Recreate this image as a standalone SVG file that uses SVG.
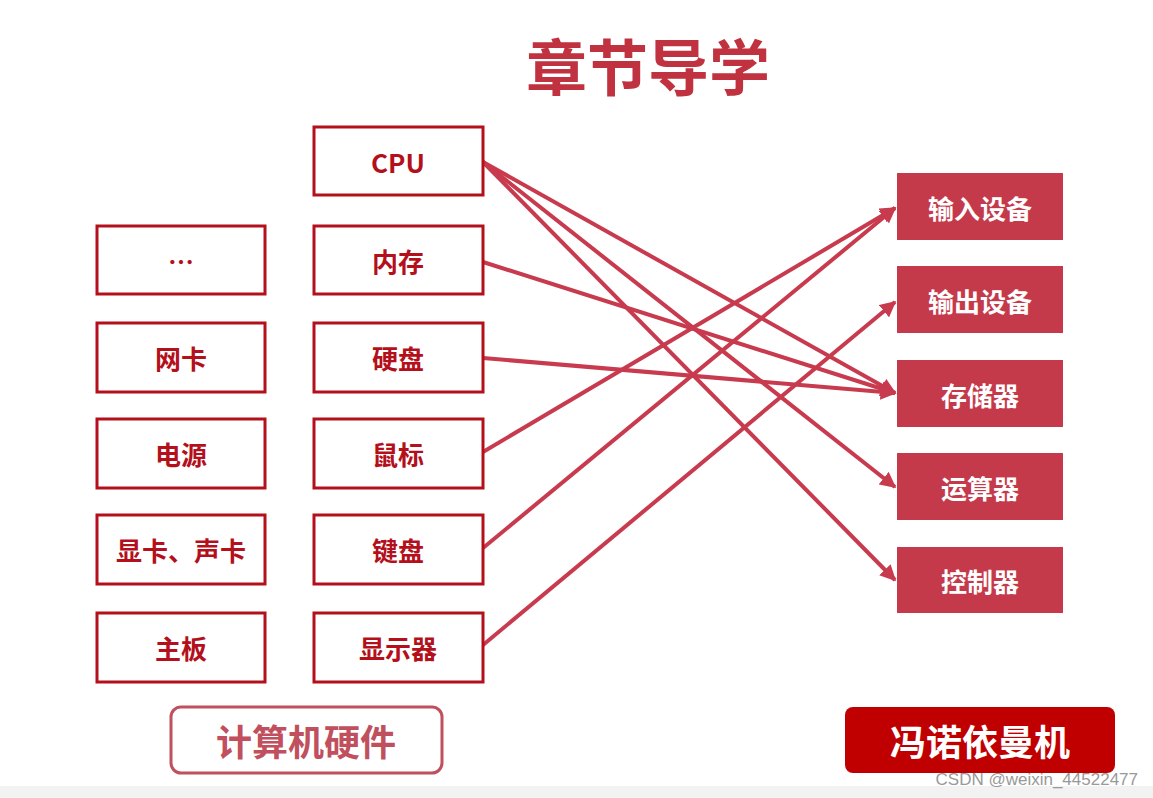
<svg xmlns="http://www.w3.org/2000/svg" width="1153" height="798" viewBox="0 0 1153 798">
<style>
.t{font-family:"Noto Sans CJK SC","Noto Sans",sans-serif;font-weight:bold;text-anchor:middle;dominant-baseline:central}
.hw rect{fill:#fff;stroke:#b3101c;stroke-width:3}
.hw text{fill:#b3101c;font-size:26px}
.vn rect{fill:#c53a4b}
.vn text{fill:#fff;font-size:26px}
.c line{stroke:#c83a4e;stroke-width:4}
</style>
<defs><marker id="a" viewBox="0 0 10 10" refX="9" refY="5" markerWidth="4" markerHeight="4" orient="auto"><path d="M0,0L10,5L0,10z" fill="#c83a4e"/></marker></defs>
<rect width="1153" height="798" fill="#fff"/>
<rect y="786" width="1153" height="12" fill="#f2f2f2"/>
<text class="t" x="648" y="64" font-size="61" fill="#c0323f">章节导学</text>
<g class="c">
<line x1="483" y1="162" x2="895" y2="393" marker-end="url(#a)"/>
<line x1="483" y1="162" x2="895" y2="487" marker-end="url(#a)"/>
<line x1="483" y1="162" x2="895" y2="580" marker-end="url(#a)"/>
<line x1="483" y1="262" x2="895" y2="393" marker-end="url(#a)"/>
<line x1="483" y1="358" x2="895" y2="393" marker-end="url(#a)"/>
<line x1="483" y1="452" x2="895" y2="208" marker-end="url(#a)"/>
<line x1="483" y1="548" x2="895" y2="208" marker-end="url(#a)"/>
<line x1="483" y1="645" x2="895" y2="302" marker-end="url(#a)"/>
</g>
<g class="hw">
<g id="n-dots"><rect x="97" y="226" width="168" height="68"/><text class="t" x="181" y="260">…</text></g>
<g id="n-wk"><rect x="97" y="323" width="168" height="69"/><text class="t" x="181" y="357">网卡</text></g>
<g id="n-dy"><rect x="97" y="419" width="168" height="69"/><text class="t" x="181" y="453">电源</text></g>
<g id="n-xk"><rect x="97" y="515" width="168" height="69"/><text class="t" x="181" y="549">显卡、声卡</text></g>
<g id="n-zb"><rect x="97" y="613" width="168" height="69"/><text class="t" x="181" y="647">主板</text></g>
<g id="n-cpu"><rect x="314" y="127" width="169" height="68"/><text class="t" x="398" y="161">CPU</text></g>
<g id="n-nc"><rect x="314" y="226" width="169" height="68"/><text class="t" x="398" y="260">内存</text></g>
<g id="n-yp"><rect x="314" y="323" width="169" height="69"/><text class="t" x="398" y="357">硬盘</text></g>
<g id="n-sb"><rect x="314" y="419" width="169" height="69"/><text class="t" x="398" y="453">鼠标</text></g>
<g id="n-jp"><rect x="314" y="515" width="169" height="69"/><text class="t" x="398" y="549">键盘</text></g>
<g id="n-xsq"><rect x="314" y="613" width="169" height="69"/><text class="t" x="398" y="647">显示器</text></g>
</g>
<g class="vn">
<g id="n-in"><rect x="897" y="173" width="166" height="67"/><text class="t" x="980" y="207">输入设备</text></g>
<g id="n-out"><rect x="897" y="266" width="166" height="67"/><text class="t" x="980" y="300">输出设备</text></g>
<g id="n-mem"><rect x="897" y="360" width="166" height="67"/><text class="t" x="980" y="394">存储器</text></g>
<g id="n-alu"><rect x="897" y="453" width="166" height="67"/><text class="t" x="980" y="487">运算器</text></g>
<g id="n-cu"><rect x="897" y="547" width="166" height="66"/><text class="t" x="980" y="580">控制器</text></g>
</g>
<g id="l-hw"><rect x="171" y="707" width="271" height="66" rx="10" fill="#fff" stroke="#c0505e" stroke-width="3"/><text class="t" x="306" y="740" font-size="36" fill="#c0505e">计算机硬件</text></g>
<g id="l-vn"><rect x="845" y="707" width="270" height="66" rx="8" fill="#c00000"/><text class="t" x="980" y="740" font-size="36" fill="#fff">冯诺依曼机</text></g>
<text x="1138" y="785" font-family="Liberation Sans,sans-serif" font-size="17" fill="#999" text-anchor="end">CSDN @weixin_44522477</text>
</svg>
